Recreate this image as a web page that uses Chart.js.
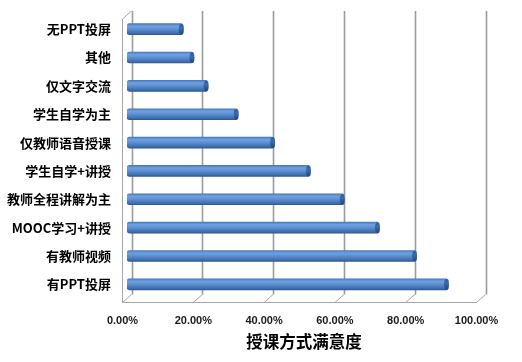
<!DOCTYPE html>
<html>
<head>
<meta charset="utf-8">
<script src="https://cdn.jsdelivr.net/npm/chart.js@4.4.1/dist/chart.umd.min.js"></script>
<style>
	html, body { margin:0; padding:0; background:#fff; }
	#wrap { width:522px; height:362px; }
</style>
</head>
<body>
<div id="wrap"><canvas id="satisfaction" width="522" height="362"></canvas></div>
<script>
// 授课方式满意度 (top to bottom as in the picture)
var categories = ["无PPT投屏", "其他", "仅文字交流", "学生自学为主", "仅教师语音授课", "学生自学+讲授", "教师全程讲解为主", "MOOC学习+讲授", "有教师视频", "有PPT投屏"];
var satisfaction = [15.9, 18.9, 22.9, 31.4, 41.7, 51.8, 61.4, 71.3, 81.8, 90.8];
var tickValues = [0, 20, 40, 60, 80, 100];
var axisTitle = "授课方式满意度";

var DX = 4.5, DY = 4;

function barGradient(ctx) {
	var chart = ctx.chart;
	if (!chart.scales.y || ctx.type !== 'data') return '#4f81bd';
	var y = chart.scales.y.getPixelForValue(ctx.dataIndex);
	if (!isFinite(y)) return '#4f81bd';
	var g = chart.ctx.createLinearGradient(0, y - 6, 0, y + 6);
	g.addColorStop(0, '#4272b2');
	g.addColorStop(0.25, '#6fa1e2');
	g.addColorStop(0.5, '#5d8fd3');
	g.addColorStop(0.85, '#3c6caa');
	g.addColorStop(1, '#2a5088');
	return g;
}

// back wall, left wall and floor of the 3D frame
var frame3d = {
	id: 'frame3d',
	beforeDatasetsDraw: function(chart) {
		var c = chart.ctx, a = chart.chartArea, x = chart.scales.x;
		var backTop = a.top - DY, backBottom = a.bottom - DY, frontBottom = a.bottom + DY, frontTop = a.top + DY;
		c.save();
		c.strokeStyle = '#a6a6a6';
		c.lineWidth = 1;
		c.beginPath();
		// floor front edge
		c.moveTo(x.getPixelForValue(0) - DX, frontBottom);
		c.lineTo(x.getPixelForValue(100) - DX, frontBottom);
		// left wall front edge and top
		c.moveTo(x.getPixelForValue(0) - DX, frontBottom);
		c.lineTo(x.getPixelForValue(0) - DX, frontTop);
		c.lineTo(x.getPixelForValue(0) + DX, backTop);
		tickValues.forEach(function(v) {
			var p = x.getPixelForValue(v);
			c.moveTo(p - DX, frontBottom);
			c.lineTo(p + DX, backBottom);
		});
		c.stroke();
		c.lineWidth = 1.6;
		c.strokeStyle = '#9c9c9c';
		c.beginPath();
		tickValues.forEach(function(v) {
			var p = Math.round(x.getPixelForValue(v) + DX) + 0.5;
			c.moveTo(p, backTop);
			c.lineTo(p, backBottom);
		});
		c.stroke();
		c.restore();
	},
	afterDatasetsDraw: function(chart) {
		// cylinder end caps
		var c = chart.ctx;
		chart.getDatasetMeta(0).data.forEach(function(bar) {
			var h = bar.height / 2;
			c.save();
			var g = c.createLinearGradient(0, bar.y - h, 0, bar.y + h);
			g.addColorStop(0, '#2f5a92');
			g.addColorStop(0.4, '#3d6cab');
			g.addColorStop(1, '#22467a');
			c.fillStyle = g;
			c.beginPath();
			c.ellipse(bar.x - 2, bar.y, 2.5, h, 0, 0, Math.PI * 2);
			c.fill();
			c.restore();
		});
	}
};

var chart = new Chart(document.getElementById('satisfaction'), {
	type: 'bar',
	data: {
		labels: categories,
		datasets: [{
			label: axisTitle,
			data: satisfaction,
			backgroundColor: barGradient,
			borderWidth: 0,
			borderRadius: 3,
			borderSkipped: false,
			barThickness: 11
		}]
	},
	options: {
		indexAxis: 'y',
		responsive: false,
		animation: false,
		layout: { padding: { left: 5, right: 41, top: 15, bottom: 0 } },
		plugins: {
			legend: { display: false },
			tooltip: { enabled: false }
		},
		scales: {
			x: {
				min: 0,
				max: 100,
				afterBuildTicks: function(s) {
					s.ticks = tickValues.map(function(v) { return { value: v }; });
				},
				afterFit: function(s) {
					s.height = 63.5;
					s.paddingLeft = 0;
					s.paddingRight = 0;
				},
				grid: { display: false, drawTicks: false },
				border: { display: false },
				ticks: {
					padding: 16,
					labelOffset: -DX,
					maxRotation: 0,
					color: '#1a1a1a',
					font: { family: 'Liberation Sans', size: 11, weight: 'bold' },
					callback: function(v) { return v.toFixed(2) + '%'; }
				},
				title: {
					display: true,
					text: axisTitle,
					color: '#000',
					font: { family: 'Noto Sans CJK SC', size: 16.5, weight: 'bold' },
					padding: { top: 0, bottom: 10.5 }
				}
			},
			y: {
				grid: { display: false, drawTicks: false },
				border: { display: false },
				afterFit: function(s) {
					s.width = 122;
					s.paddingTop = 0;
					s.paddingBottom = 0;
				},
				ticks: {
					padding: 16,
					color: '#000',
					font: { family: 'Noto Sans CJK SC', size: 13, weight: 'bold' }
				}
			}
		}
	},
	plugins: [frame3d]
});
chart.update();
</script>
</body>
</html>
